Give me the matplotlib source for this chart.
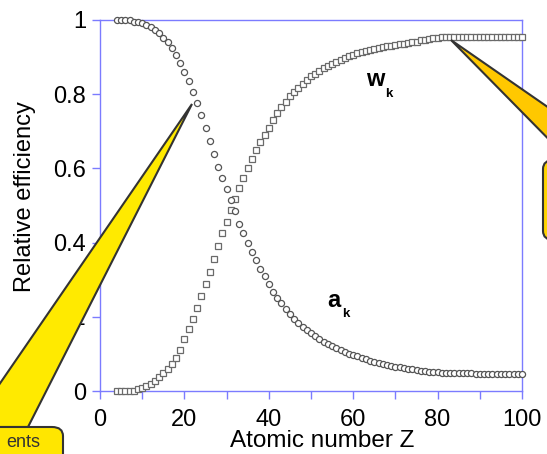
import matplotlib.pyplot as plt
from matplotlib.patches import Polygon, FancyBboxPatch

# atomic number Z and the two yields
z = list(range(4, 101))

a_k = [1.0, 1.0, 1.0, 1.0, 0.995, 0.995, 0.993, 0.987, 0.98, 0.972,
       0.965, 0.952, 0.94, 0.925, 0.905, 0.885, 0.86, 0.835, 0.805, 0.775,
       0.745, 0.71, 0.675, 0.64, 0.605, 0.575, 0.545, 0.515, 0.485, 0.45,
       0.425, 0.40, 0.375, 0.352, 0.33, 0.31, 0.288, 0.268, 0.25, 0.236,
       0.222, 0.208, 0.195, 0.184, 0.173, 0.164, 0.156, 0.148, 0.14, 0.133,
       0.126, 0.12, 0.115, 0.11, 0.105, 0.10, 0.097, 0.093, 0.089, 0.086,
       0.082, 0.079, 0.076, 0.073, 0.071, 0.068, 0.066, 0.064, 0.062, 0.06,
       0.058, 0.056, 0.055, 0.053, 0.052, 0.051, 0.05, 0.049, 0.049, 0.048,
       0.048, 0.048, 0.048, 0.048, 0.048, 0.047, 0.047, 0.047, 0.047, 0.047,
       0.047, 0.047, 0.046, 0.046, 0.046, 0.046, 0.046]

w_k = [0.0, 0.0, 0.0, 0.0, 0.0, 0.005, 0.008, 0.013, 0.02, 0.028,
       0.038, 0.048, 0.06, 0.072, 0.09, 0.11, 0.14, 0.168, 0.195, 0.225,
       0.255, 0.288, 0.322, 0.356, 0.39, 0.425, 0.455, 0.488, 0.517, 0.547,
       0.575, 0.60, 0.625, 0.65, 0.67, 0.69, 0.71, 0.73, 0.75, 0.765,
       0.78, 0.795, 0.805, 0.818, 0.828, 0.838, 0.848, 0.855, 0.862, 0.87,
       0.876, 0.882, 0.888, 0.893, 0.898, 0.902, 0.906, 0.91, 0.913, 0.917,
       0.92, 0.922, 0.925, 0.927, 0.929, 0.931, 0.933, 0.935, 0.936, 0.938,
       0.94, 0.942, 0.945, 0.947, 0.949, 0.951, 0.952, 0.953, 0.953, 0.954,
       0.954, 0.954, 0.954, 0.954, 0.954, 0.954, 0.954, 0.954, 0.954, 0.954,
       0.954, 0.954, 0.954, 0.954, 0.954, 0.954, 0.954]

x_ticks = [0, 20, 40, 60, 80, 100]
y_ticks = [0, 0.2, 0.4, 0.6, 0.8, 1]
y_labels = ['0', '0.2', '0.4', '0.6', '0.8', '1']

plt.rcParams['font.family'] = ['Liberation Sans', 'DejaVu Sans']

W, H = 547, 454
fig = plt.figure(figsize=(W / 100, H / 100), dpi=100)
ax = fig.add_axes([100 / W, 1 - 391 / H, 422 / W, 371 / H])

blue = '#7b7bff'

ax.plot(z, w_k, ls='none', marker='s', ms=4.4, mfc='white', mec='#6a6a6a',
        mew=0.9, clip_on=False, zorder=3)
ax.plot(z, a_k, ls='none', marker='o', ms=4.4, mfc='white', mec='#555555',
        mew=0.9, clip_on=False, zorder=3)

ax.set_xlim(0, 100)
ax.set_ylim(0, 1)
ax.set_xticks(range(0, 101, 10))
ax.set_xticklabels([str(t) if t in x_ticks else '' for t in range(0, 101, 10)])
ax.set_yticks(y_ticks)
ax.set_yticklabels(y_labels)
for s in ax.spines.values():
    s.set_color(blue)
    s.set_linewidth(1.0)
ax.tick_params(direction='out', length=6, width=1, color=blue, labelsize=17)
ax.tick_params(axis='x', pad=7)
ax.tick_params(axis='y', pad=4)
ax.set_xlabel('Atomic number Z', fontsize=17.5)
ax.set_ylabel('Relative efficiency', fontsize=17)
ax.xaxis.set_label_coords(0.526, -0.105)
ax.yaxis.set_label_coords(-0.152, 0.523)


# labels placed in pixel space
def px(x, y):
    return x / W, 1 - y / H


fig.text(*px(366, 86), 'w', fontsize=17, fontweight='bold', va='baseline')
fig.text(*px(385, 97), 'k', fontsize=9.5, fontweight='bold', va='baseline')
fig.text(*px(327, 307), 'a', fontsize=17, fontweight='bold', va='baseline')
fig.text(*px(342, 317), 'k', fontsize=9.5, fontweight='bold', va='baseline')

# callouts, partly outside the figure
edge = '#333333'
left_wedge = Polygon([px(192, 104), px(-30, 427), px(28, 427)], closed=True,
                     transform=fig.transFigure, fc='#ffea00', ec=edge, lw=1.5,
                     clip_on=False, zorder=5)
left_box = FancyBboxPatch(px(-60, 520), 123 / W, 93 / H,
                          boxstyle='round,pad=0,rounding_size=0.02',
                          transform=fig.transFigure, fc='#ffe600', ec=edge,
                          lw=1.5, clip_on=False, zorder=5)
right_wedge = Polygon([px(451, 40), px(640, 171), px(640, 232)], closed=True,
                      transform=fig.transFigure, fc='#ffc800', ec=edge, lw=1.5,
                      clip_on=False, zorder=5)
right_box = FancyBboxPatch(px(543, 240), 100 / W, 80 / H,
                           boxstyle='round,pad=0,rounding_size=0.02',
                           transform=fig.transFigure, fc='#ffd400', ec=edge,
                           lw=1.5, clip_on=False, zorder=5)
fig.patches.extend([left_wedge, left_box, right_wedge, right_box])
# hide the seam between wedge and box
fig.patches.append(Polygon([px(-30, 428.5), px(27, 428.5), px(27, 440), px(-30, 440)],
                           closed=True, transform=fig.transFigure, fc='#ffe600',
                           ec='none', clip_on=False, zorder=6))
fig.text(*px(40, 451), 'ents', fontsize=13, color='#333333',
         ha='right', va='bottom', zorder=7)

fig.savefig('out.png', dpi=100)
